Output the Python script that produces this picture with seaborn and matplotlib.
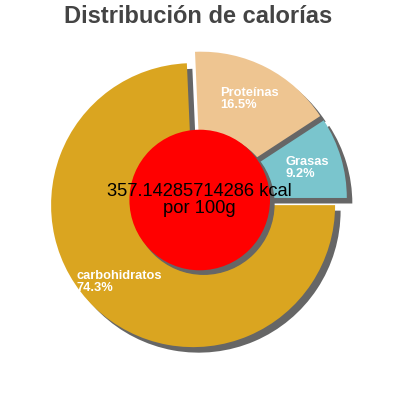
import matplotlib
matplotlib.use("Agg")
import matplotlib.pyplot as plt
from matplotlib.patches import Circle, Shadow
import numpy as np
import seaborn as sns

# Data
categorias = ['Grasas', 'Proteinas', 'carbohidratos']
etiquetas = ['Grasas', 'Proteínas', 'carbohidratos']
porcentajes = [9.2, 16.5, 74.3]
colores = ['#7AC5CD', '#EEC591', '#DAA520']
kcal_texto = '357.14285714286 kcal\npor 100g'
titulo = 'Distribución de calorías'

sns.set_theme(style="white")
plt.rcParams['font.family'] = ['Liberation Sans', 'DejaVu Sans']

fig = plt.figure(figsize=(4, 4), dpi=100)
R_PX = 142.0
ax = fig.add_axes([0, 0, 1, 1])

shadow_props = {'ox': 0.028, 'oy': -0.028, 'facecolor': '#666666',
                'edgecolor': '#666666', 'alpha': 1.0, 'linewidth': 0}

labels = [f"{e}\n{p}%" for e, p in zip(etiquetas, porcentajes)]
wedges, texts = ax.pie(
    porcentajes,
    colors=colores,
    explode=[0.05] * len(porcentajes),
    startangle=0,
    counterclock=True,
    radius=1.0,
    labels=labels,
    labeldistance=0.75,
    shadow=shadow_props,
    wedgeprops={'linewidth': 0},
    textprops={'color': 'white', 'fontsize': 9.3, 'fontweight': 'bold'},
)
for t in texts:
    t.set_horizontalalignment('center')
    t.set_verticalalignment('center')
    t.set_multialignment('left')
    t.set_linespacing(1.0)

# pie() resets the limits, so set them afterwards
ax.set_xlim(-198 / R_PX, 202 / R_PX)
ax.set_ylim(-200 / R_PX, 200 / R_PX)
ax.set_aspect('equal')
ax.axis('off')

# Red centre disc with its own shadow
centro = Circle((0.012, 0), 0.495, facecolor='#FF0000', edgecolor='none', zorder=3)
ax.add_patch(centro)
sombra = Shadow(centro, 0.02, -0.02, facecolor='#666666', edgecolor='#666666', alpha=1.0)
sombra.set_zorder(2.9)
ax.add_patch(sombra)

ax.text(0.012, 0.0, kcal_texto, ha='center', va='center', fontsize=13.2,
        color='black', zorder=4, linespacing=1.05)

fig.text(0.495, 0.958, titulo, ha='center', va='center', fontsize=17,
         fontweight='bold', color='#444444')

fig.savefig('out.png', dpi=100)
